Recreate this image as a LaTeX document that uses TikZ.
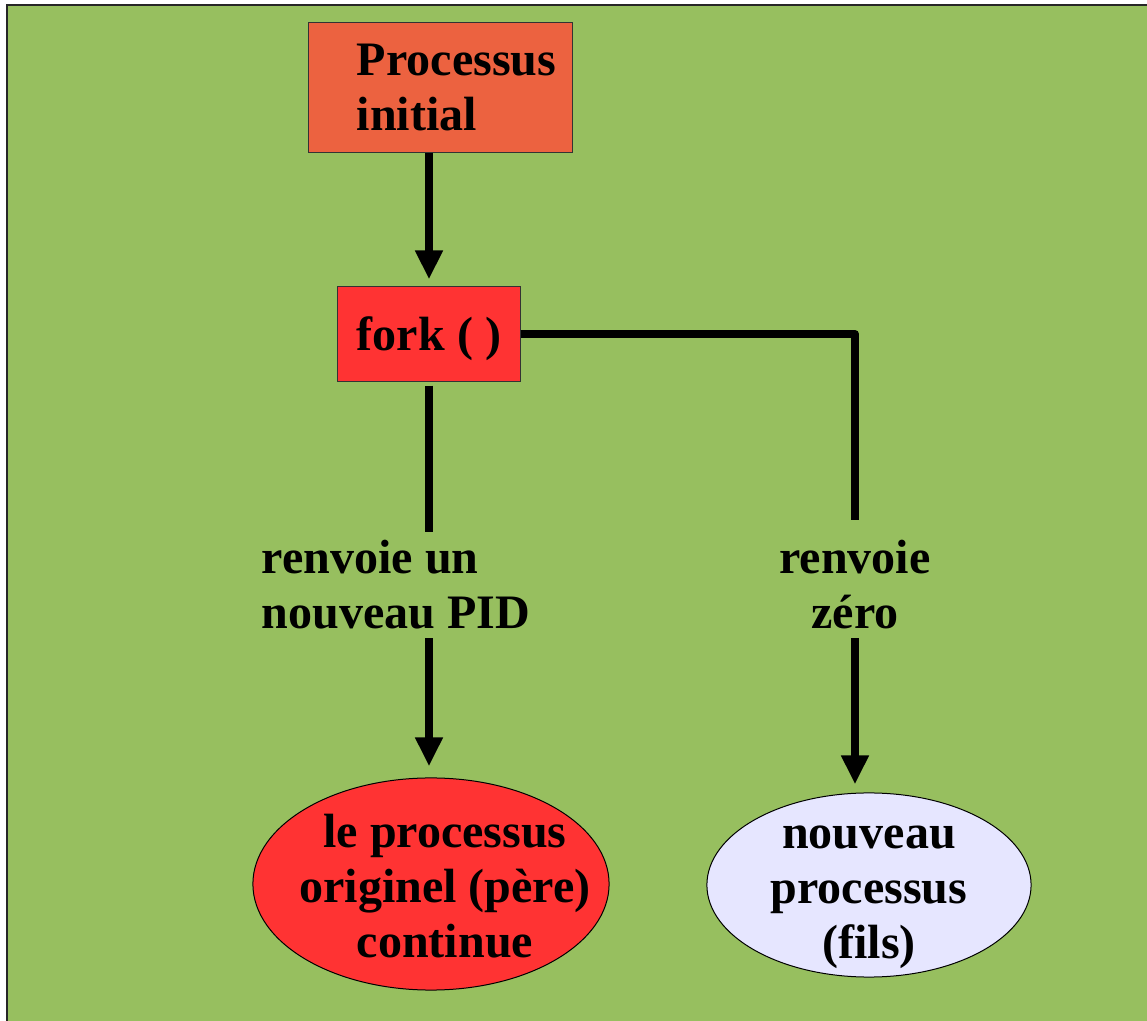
\documentclass[tikz,border=0pt]{standalone}
\usepackage{fontspec}
\setmainfont{Liberation Serif}
\usetikzlibrary{arrows.meta,shapes.geometric}
\definecolor{fond}{HTML}{97BF5F}
\definecolor{orangebox}{HTML}{EC6240}
\definecolor{rouge}{HTML}{FF3333}
\definecolor{lavande}{HTML}{E6E6FF}
\tikzset{
	boite/.style={draw=black!80, line width=0.01cm, inner sep=0pt},
	bulle/.style={ellipse, draw=black, line width=0.01cm, inner sep=-0.5cm, align=center,
		text height=1.47cm, text depth=0pt},
	etiquette/.style={inner xsep=0pt, inner ysep=0.08cm},
	lien/.style={line width=0.08cm},
	fleche/.style={lien, -{Triangle[width=0.26cm,length=0.29cm]}}
}
\begin{document}
\begin{tikzpicture}[x=0.01cm, y=-0.01cm, font=\fontsize{13.66pt}{15.65pt}\selectfont\bfseries]
\useasboundingbox (0,0) rectangle (1147,1021);
\filldraw[fill=fond, draw=black!85, line width=0.02cm] (7,5) rectangle (1180,1050);
\node[boite, fill=orangebox, minimum width=2.63cm, minimum height=1.29cm, align=left] (init) at (440.5,87.5)
	{\hspace*{0.32cm}Processus\\\hspace*{0.32cm}initial};
\node[boite, fill=rouge, minimum width=1.82cm, minimum height=0.94cm, text depth=0pt] (fork) at (429,334) {fork ( )};
\node[etiquette, align=left] (pid) at (396,585) {renvoie un\\nouveau PID};
\node[etiquette, align=center] (zero) at (855,585) {renvoie\\zéro};
\node[bulle, fill=rouge, minimum width=3.56cm, minimum height=2.12cm] (pere) at (431,884)
	{\hspace*{0.28cm}le processus\\\hspace*{0.28cm}originel (père)\\\hspace*{0.28cm}continue};
\node[bulle, fill=lavande, minimum width=3.24cm, minimum height=1.84cm] (fils) at (869,885)
	{nouveau\\processus\\(fils)};
\draw[fleche, shorten >=0.07cm] (init.south -| fork.north) -- (fork.north);
\draw[lien, shorten <=0.04cm] (fork.south) -- (fork.south |- pid.north);
\draw[fleche, shorten >=0.11cm] (fork.south |- pid.south) -- (fork.south |- pere.north);
\draw[lien, line join=round, shorten >=0.12cm] (fork.east) -| (zero.north);
\draw[fleche, shorten >=0.08cm] (zero.south) -- (zero.south |- fils.north);
\end{tikzpicture}
\end{document}
